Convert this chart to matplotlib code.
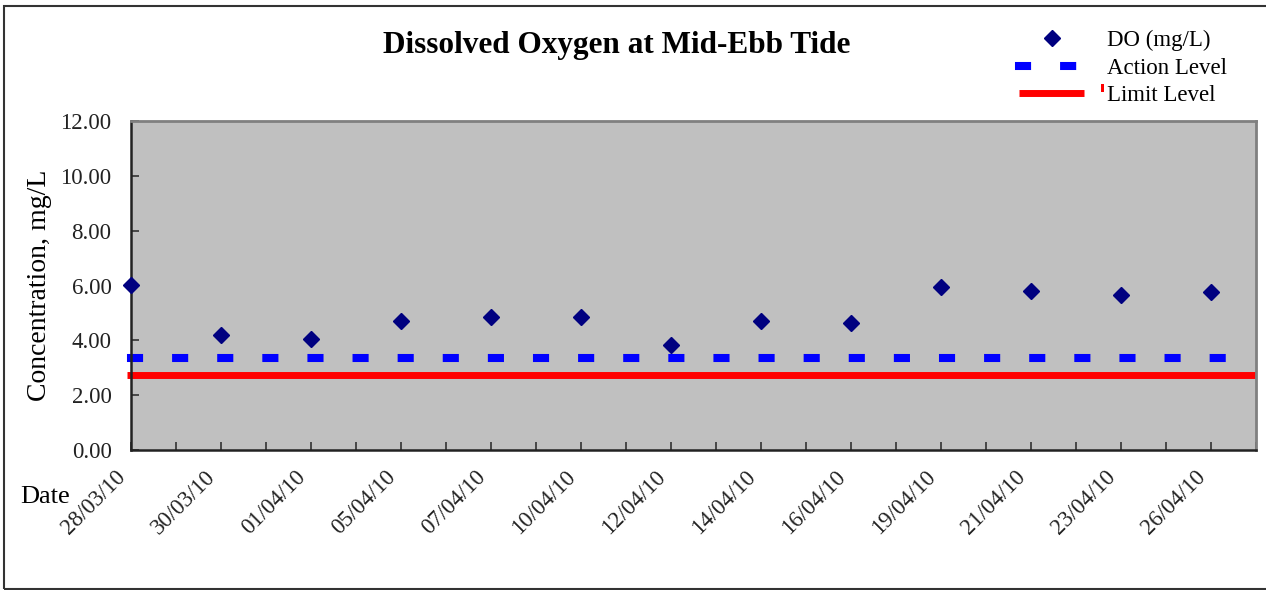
import matplotlib.pyplot as plt
from matplotlib.patches import Rectangle
from matplotlib.transforms import ScaledTranslation

plt.rcParams['font.family'] = ['Liberation Serif', 'DejaVu Serif']

# sampling dates (every other category slot is unlabeled in the original sheet)
dates = ['28/03/10', '30/03/10', '01/04/10', '05/04/10', '07/04/10', '10/04/10',
         '12/04/10', '14/04/10', '16/04/10', '19/04/10', '21/04/10', '23/04/10',
         '26/04/10']
do_values = [6.02, 4.19, 4.06, 4.72, 4.85, 4.85, 3.83, 4.70, 4.63, 5.94, 5.80, 5.65, 5.75]
action_level = 3.37
limit_level = 2.74

n_slots = 2 * len(dates)
slot_labels = []
for d in dates:
    slot_labels += [d, '']
x_do = list(range(0, n_slots, 2))

W, H = 1266, 590
fig = plt.figure(figsize=(W / 100, H / 100), dpi=100)
ax = fig.add_axes([131 / W, 1 - 450 / H, (1256 - 131) / W, (450 - 121) / H])
ax.set_facecolor('#C0C0C0')

ax.plot([0, n_slots - 1], [action_level] * 2, color='#0000FF', lw=5.8,
        dashes=(1, 4.6), dash_capstyle='projecting', clip_on=False, zorder=2,
        label='Action Level')
ax.plot([-0.09, n_slots - 1], [limit_level] * 2, color='#FF0000', lw=5.0,
        solid_capstyle='butt', clip_on=False, zorder=2, label='Limit Level')
ax.plot(x_do, do_values, ls='none', marker='D', ms=8, color='#000080',
        clip_on=False, zorder=3, label='DO (mg/L)')

ax.set_xlim(0, n_slots - 1)
ax.set_ylim(0, 12)
ax.set_yticks(range(0, 13, 2))
ax.set_yticklabels(['%.2f' % v for v in range(0, 13, 2)], fontsize=16.5, color='#222222')
ax.set_xticks(range(n_slots))
ax.set_xticklabels(slot_labels[:n_slots], rotation=45, ha='right', va='top',
                   rotation_mode='anchor', fontsize=16.5, color='#222222')
ax.tick_params(axis='both', direction='in', length=6, width=1.2, color='#333333')
ax.tick_params(axis='x', pad=10)
ax.tick_params(axis='y', pad=14)
shift = ScaledTranslation(-0.16, -0.03, fig.dpi_scale_trans)
for lab in ax.get_xticklabels():
    lab.set_transform(lab.get_transform() + shift)

for s in ['left', 'bottom']:
    ax.spines[s].set_color('#222222')
    ax.spines[s].set_linewidth(1.8)
for s in ['top', 'right']:
    ax.spines[s].set_color('#808080')
    ax.spines[s].set_linewidth(2)

ax.set_ylabel('Concentration, mg/L', fontsize=20, labelpad=6)
fig.text(20 / W, 1 - 497 / H, 'Date', fontsize=19, ha='left', va='center')
fig.text(617 / W, 1 - 46 / H, 'Dissolved Oxygen at Mid-Ebb Tide', fontsize=22.5,
         fontweight='bold', ha='center', va='center')

h, l = ax.get_legend_handles_labels()
order = [2, 0, 1]
fig.legend([h[i] for i in order], [l[i] for i in order], loc='upper left',
           bbox_to_anchor=(1008 / W, 1 - 18 / H), frameon=False, fontsize=16.5,
           handlelength=2.8, handletextpad=1.0, labelspacing=0.3, borderpad=0,
           numpoints=1)

# outer chart frame and the stray legend mark
frame = Rectangle((4 / W, 1 - 589 / H), 1.0, (589 - 6) / H, transform=fig.transFigure,
                  fill=False, edgecolor='#333333', lw=1.5)
fig.add_artist(frame)
fig.add_artist(Rectangle((1101 / W, 1 - 92 / H), 3 / W, 8 / H, transform=fig.transFigure,
                         color='#FF0000', lw=0))

fig.savefig('out.png', dpi=100)
